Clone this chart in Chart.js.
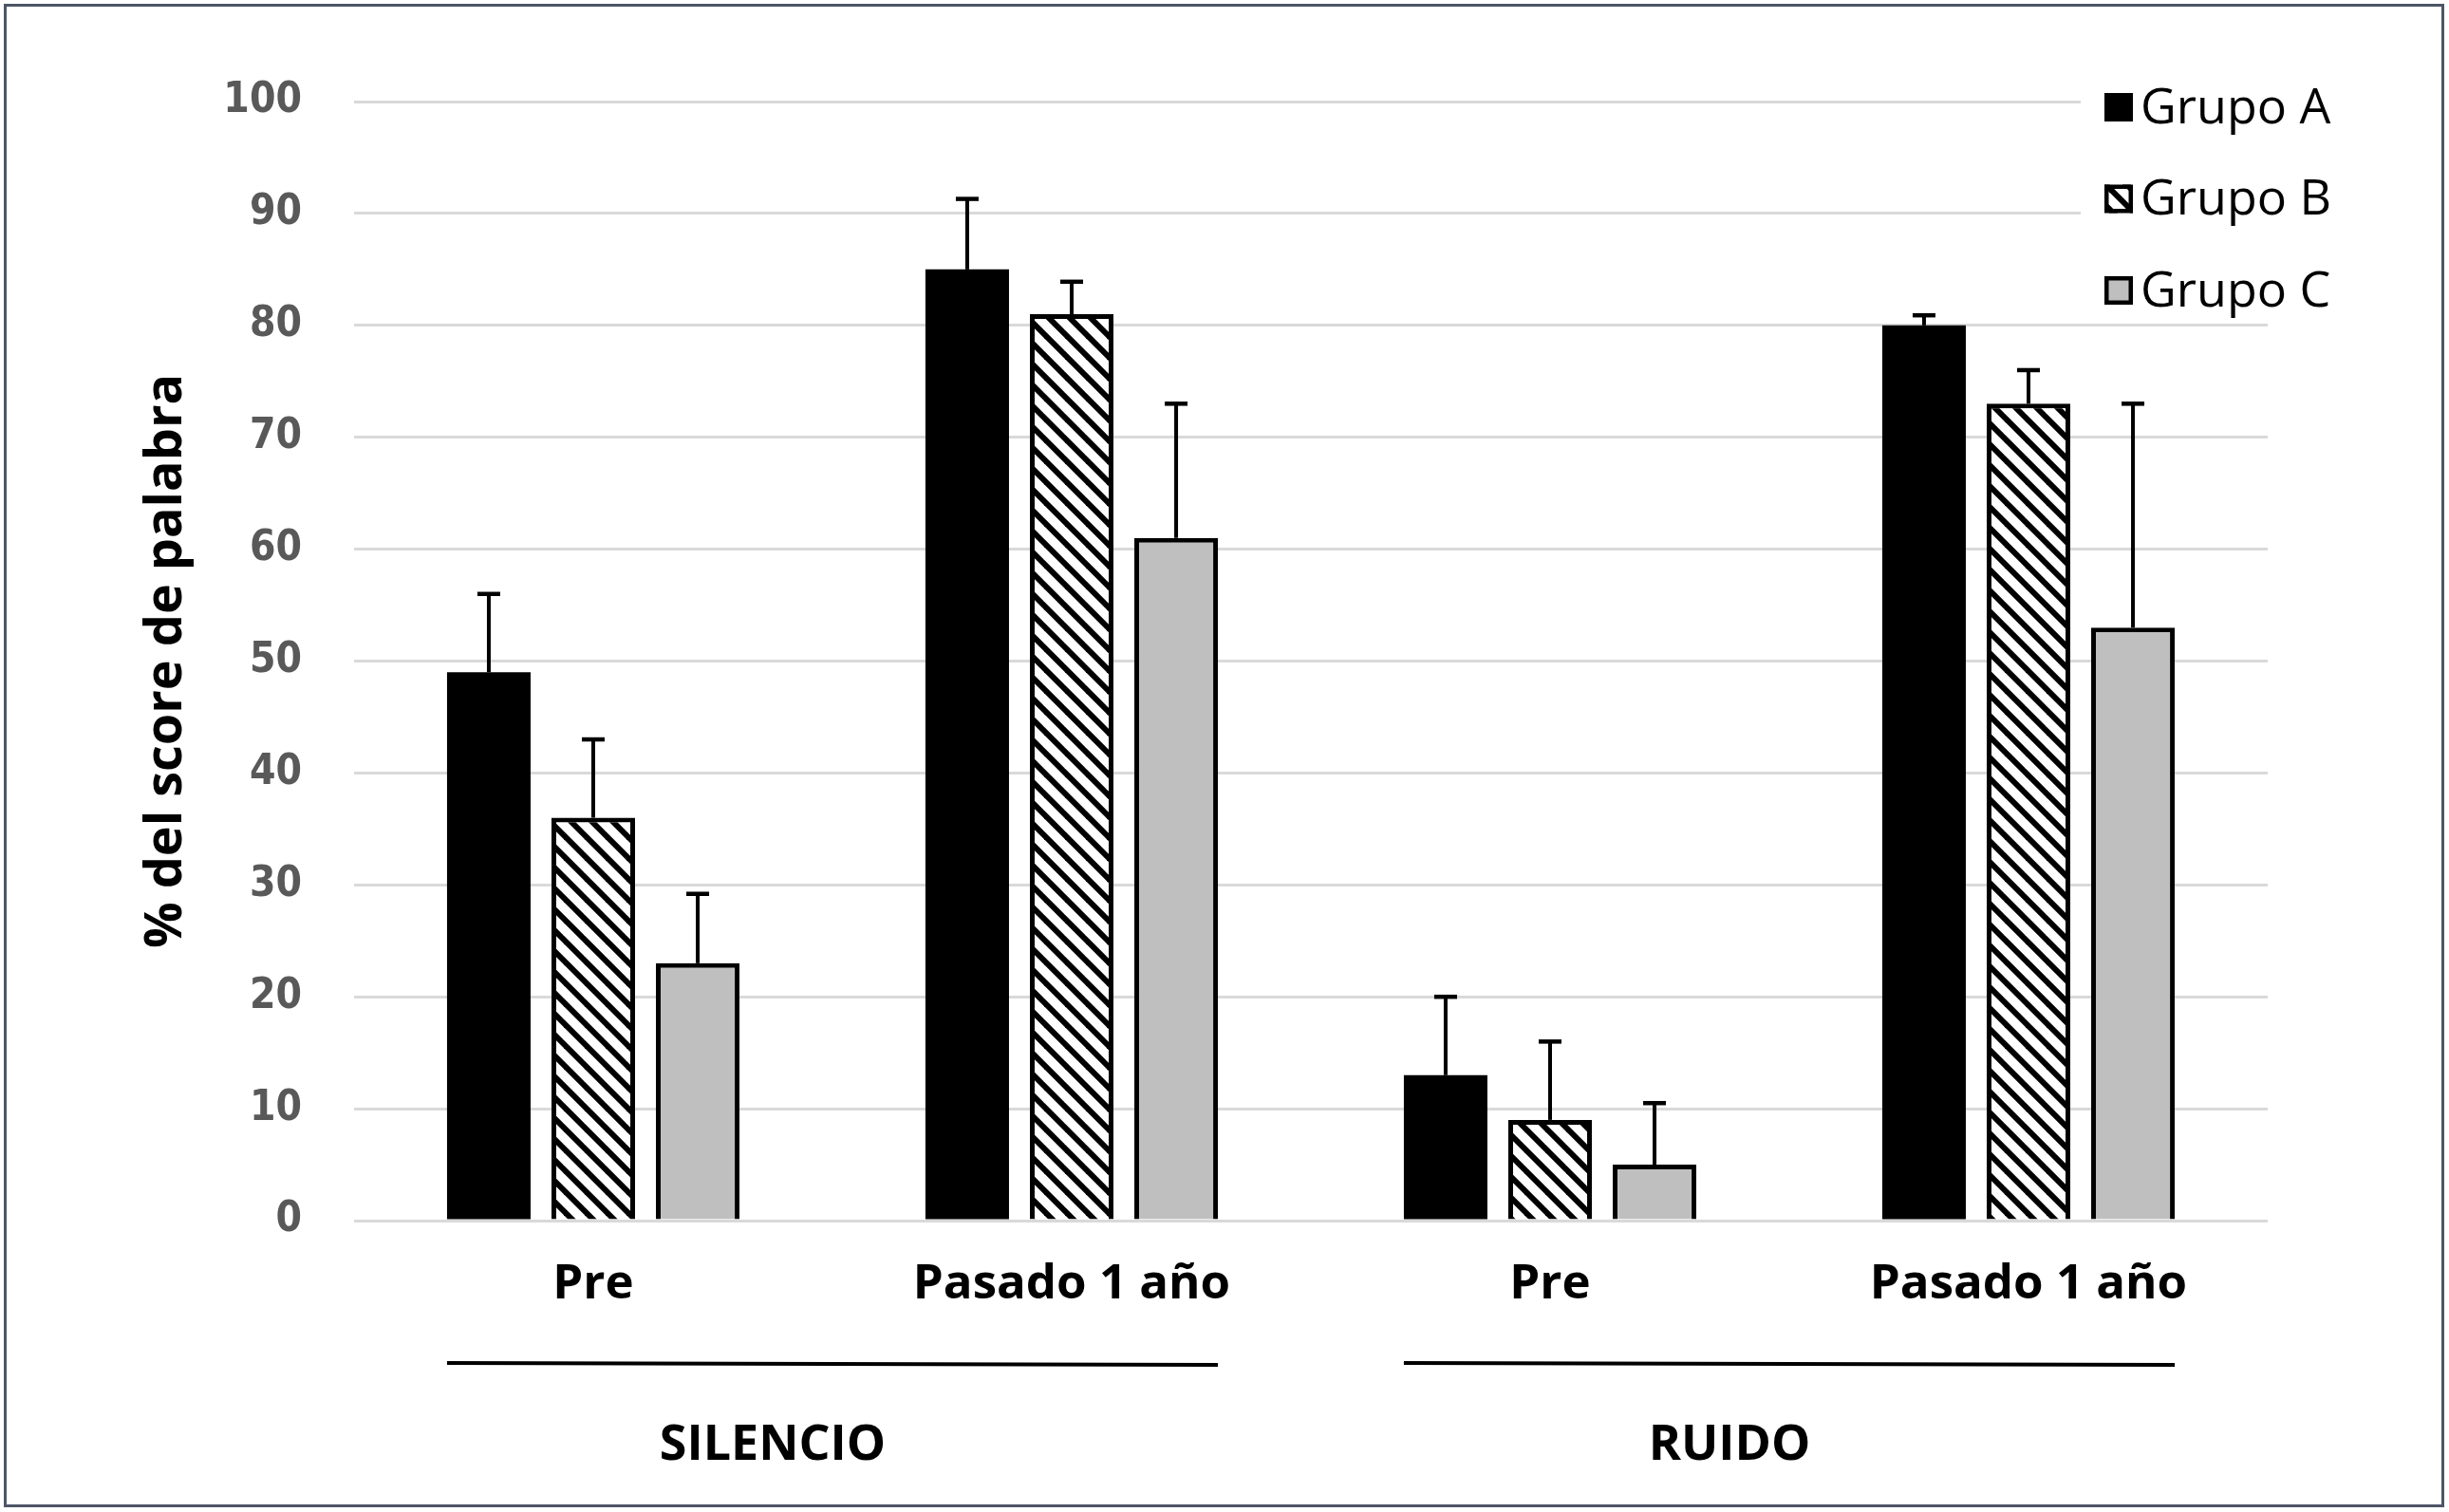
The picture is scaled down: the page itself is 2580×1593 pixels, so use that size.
<!DOCTYPE html>
<html>
<head>
<meta charset="utf-8">
<script src="https://cdn.jsdelivr.net/npm/chart.js@4.4.0/dist/chart.umd.min.js"></script>
<style>
html,body{margin:0;padding:0;background:#fff;}
#wrap{position:relative;width:2580px;height:1593px;overflow:hidden;}
#frame{position:absolute;left:4px;top:4px;width:2571px;height:1584px;border:3px solid #4d5566;box-sizing:border-box;pointer-events:none;}
canvas{position:absolute;left:0;top:0;}
</style>
</head>
<body>
<div id="wrap"><canvas id="c" width="2580" height="1593"></canvas><div id="frame"></div></div>
<script>
// ---- data ----
const categories = ['Pre', 'Pasado 1 año', 'Pre', 'Pasado 1 año'];
const seriesNames = ['Grupo A', 'Grupo B', 'Grupo C'];
const grupoA = [49, 85, 13, 80];
const grupoB = [36, 81, 9, 73];
const grupoC = [23, 61, 5, 53];
const errA = [7, 6.3, 7, 0.9];
const errB = [7, 2.9, 7, 3];
const errC = [6.2, 12, 5.5, 20];
const groupLabels = ['SILENCIO', 'RUIDO'];
const groupRanges = [[0, 1], [2, 3]];
const yMin = 0, yMax = 100, yStep = 10;
const yTitle = '% del score de palabra';

const FONT = '"Open Sans", "Noto Sans", sans-serif';
const TICKFONT = '"DejaVu Sans Condensed", "Liberation Sans", sans-serif';

function makeHatch() {
  const s = 22;
  const c = document.createElement('canvas');
  c.width = s; c.height = s;
  const g = c.getContext('2d');
  g.fillStyle = '#fff'; g.fillRect(0, 0, s, s);
  g.strokeStyle = '#000'; g.lineWidth = 6;
  for (const k of [-s, 0, s]) {
    g.beginPath(); g.moveTo(-3, -3 + k); g.lineTo(s + 3, s + 3 + k); g.stroke();
  }
  return c;
}

const errorBars = {
  id: 'errorBars',
  afterDatasetsDraw(chart) {
    const ctx = chart.ctx, y = chart.scales.y;
    chart.data.datasets.forEach((ds, i) => {
      const meta = chart.getDatasetMeta(i);
      meta.data.forEach((bar, j) => {
        const top = y.getPixelForValue(ds.data[j] + ds.err[j]);
        ctx.save();
        ctx.strokeStyle = '#000';
        ctx.lineWidth = 4;
        ctx.beginPath(); ctx.moveTo(bar.x, bar.y); ctx.lineTo(bar.x, top); ctx.stroke();
        ctx.lineWidth = 4.5;
        ctx.beginPath(); ctx.moveTo(bar.x - 12, top); ctx.lineTo(bar.x + 12, top); ctx.stroke();
        ctx.restore();
      });
    });
  }
};

const customLegend = {
  id: 'customLegend',
  afterDraw(chart) {
    const ctx = chart.ctx, a = chart.chartArea;
    ctx.save();
    ctx.fillStyle = '#fff';
    ctx.fillRect(a.right - 197, a.top - 50, 200, 280);
    const mx = a.right - 172, size = 30;
    chart.data.datasets.forEach((ds, i) => {
      const cy = a.top + 6 + i * 96.5;
      ctx.fillStyle = ds.backgroundColor;
      ctx.fillRect(mx, cy - size / 2, size, size);
      if (ds.borderWidth) {
        ctx.strokeStyle = '#000';
        ctx.lineWidth = 4.5;
        ctx.strokeRect(mx + 2.25, cy - size / 2 + 2.25, size - 4.5, size - 4.5);
      }
      ctx.fillStyle = '#000';
      ctx.font = '52px ' + FONT;
      ctx.textBaseline = 'middle';
      ctx.textAlign = 'left';
      ctx.fillText(ds.label, mx + 38, cy + 2);
    });
    ctx.restore();
  }
};

const groupBrackets = {
  id: 'groupBrackets',
  afterDraw(chart) {
    const ctx = chart.ctx, x = chart.scales.x;
    const first = chart.getDatasetMeta(0).data;
    const last = chart.getDatasetMeta(chart.data.datasets.length - 1).data;
    const catW = x.getPixelForValue(1) - x.getPixelForValue(0);
    ctx.save();
    groupRanges.forEach((r, gi) => {
      const x0 = first[r[0]].x - first[r[0]].width / 2;
      const x1 = last[r[1]].x + last[r[1]].width / 2;
      ctx.strokeStyle = '#000';
      ctx.lineWidth = 4;
      ctx.beginPath(); ctx.moveTo(x0, 1436); ctx.lineTo(x1, 1438); ctx.stroke();
      const cx = (x.getPixelForValue(r[0]) + x.getPixelForValue(r[1])) / 2 - 0.125 * catW;
      ctx.fillStyle = '#000';
      ctx.font = 'bold 52px ' + FONT;
      ctx.textAlign = 'center';
      ctx.textBaseline = 'alphabetic';
      ctx.fillText(groupLabels[gi], cx, 1538);
    });
    ctx.restore();
  }
};

function build() {
  const ctx = document.getElementById('c').getContext('2d');
  const hatch = ctx.createPattern(makeHatch(), 'repeat');
  new Chart(ctx, {
    type: 'bar',
    data: {
      labels: categories,
      datasets: [
        { label: seriesNames[0], data: grupoA, err: errA, backgroundColor: '#000000', borderColor: '#000000', borderWidth: 0 },
        { label: seriesNames[1], data: grupoB, err: errB, backgroundColor: hatch, borderColor: '#000000', borderWidth: 5 },
        { label: seriesNames[2], data: grupoC, err: errC, backgroundColor: '#bfbfbf', borderColor: '#000000', borderWidth: 5 }
      ]
    },
    options: {
      responsive: false,
      devicePixelRatio: 1,
      animation: false,
      datasets: { bar: { barPercentage: 0.8, categoryPercentage: 0.655 } },
      layout: { padding: { left: 0, top: 107, right: 191, bottom: 0 } },
      plugins: { legend: { display: false }, tooltip: { enabled: false } },
      scales: {
        x: {
          grid: { display: false, drawTicks: false },
          border: { display: false },
          ticks: { color: '#000', font: { family: FONT, size: 51, weight: 'bold' }, padding: 37, maxRotation: 0, autoSkip: false },
          afterFit(s) { s.height = 307; }
        },
        y: {
          min: yMin, max: yMax,
          grid: { color: '#d9d9d9', lineWidth: 3, drawTicks: false },
          border: { display: false },
          ticks: { stepSize: yStep, color: '#595959', font: { family: TICKFONT, size: 44, weight: 'bold' }, padding: 55 },
          title: { display: true, text: yTitle, color: '#000', font: { family: FONT, size: 54, weight: 'bold' }, padding: { top: 143, bottom: 0 } },
          afterFit(s) { s.width = 373; }
        }
      }
    },
    plugins: [errorBars, customLegend, groupBrackets]
  });
}

const loads = ['bold 52px "Open Sans"', '52px "Open Sans"', 'bold 44px "DejaVu Sans Condensed"'].map(f => document.fonts.load(f).catch(() => null));
Promise.all(loads).then(build, build);
</script>
</body>
</html>
